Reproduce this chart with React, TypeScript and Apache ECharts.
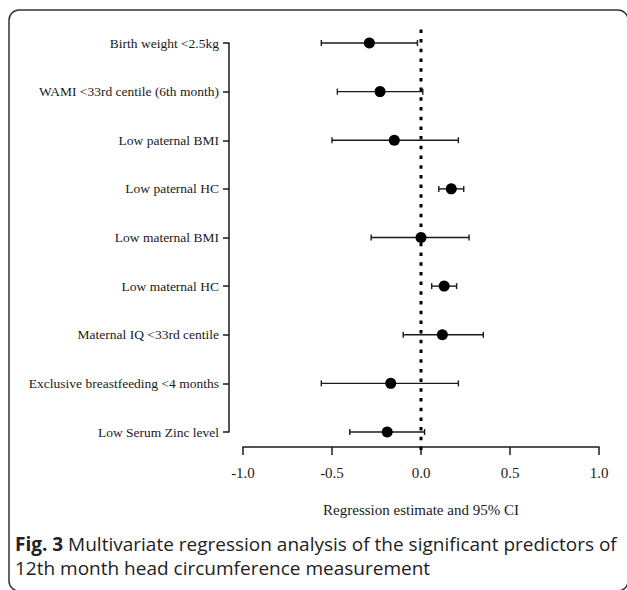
import React, { useEffect, useRef } from "react";
import * as echarts from "echarts";

const categories = [
  "Birth weight <2.5kg",
  "WAMI <33rd centile (6th month)",
  "Low paternal BMI",
  "Low paternal HC",
  "Low maternal BMI",
  "Low maternal HC",
  "Maternal IQ <33rd centile",
  "Exclusive breastfeeding <4 months",
  "Low Serum Zinc level",
];
const estimates = [-0.29, -0.23, -0.15, 0.17, 0.0, 0.13, 0.12, -0.17, -0.19];
const lowerCI = [-0.56, -0.47, -0.5, 0.1, -0.28, 0.06, -0.1, -0.56, -0.4];
const upperCI = [-0.02, 0.01, 0.21, 0.24, 0.27, 0.2, 0.35, 0.21, 0.02];
const xTicks = [-1.0, -0.5, 0.0, 0.5, 1.0];
const xTitle = "Regression estimate and 95% CI";
const captionBold = "Fig. 3";
const captionLine1 = " Multivariate regression analysis of the significant predictors of";
const captionLine2 = "12th month head circumference measurement";

const INK = "#1a1a1a";
const SERIF = "'Liberation Serif', 'DejaVu Serif', serif";
const SANS = "'Open Sans', 'Noto Sans', sans-serif";

export default function App() {
  const ref = useRef<HTMLDivElement>(null);
  useEffect(() => {
    if (!ref.current) return;
    const chart = echarts.init(ref.current, undefined, { renderer: "svg" });
    const barData = categories.map((_, i) => [lowerCI[i], upperCI[i], i]);
    const pointData = categories.map((_, i) => [estimates[i], i]);
    chart.setOption({
      animation: false,
      backgroundColor: "#ffffff",
      grid: [
        { left: 243, right: 28, top: 43, height: 389, containLabel: false },
        { left: 243, right: 28, top: 26, height: 424, containLabel: false },
      ],
      xAxis: [
        {
          type: "value",
          gridIndex: 0,
          min: -1,
          max: 1,
          interval: 0.5,
          offset: 15,
          name: xTitle,
          nameLocation: "middle",
          nameGap: 55,
          nameTextStyle: { fontFamily: SERIF, fontSize: 15, color: INK },
          axisLine: { show: true, onZero: false, lineStyle: { color: INK, width: 1.5 } },
          axisTick: { show: true, length: 8, lineStyle: { color: INK, width: 1.5 } },
          axisLabel: {
            fontFamily: SERIF,
            fontSize: 15,
            color: INK,
            margin: 18,
            formatter: (v: number) => (xTicks.includes(v) ? v.toFixed(1) : ""),
          },
          splitLine: { show: false },
        },
        {
          type: "value",
          gridIndex: 1,
          min: -1,
          max: 1,
          show: false,
        },
      ],
      yAxis: [
        {
          type: "category",
          gridIndex: 0,
          data: categories,
          inverse: true,
          boundaryGap: false,
          offset: 14,
          axisLine: { show: true, onZero: false, lineStyle: { color: INK, width: 1.5 } },
          axisTick: { show: true, length: 6, lineStyle: { color: INK, width: 1.5 } },
          axisLabel: { fontFamily: SERIF, fontSize: 13.5, color: INK, margin: 10 },
          splitLine: { show: false },
        },
        {
          type: "value",
          gridIndex: 1,
          min: 0,
          max: 1,
          show: false,
        },
      ],
      series: [
        {
          type: "line",
          xAxisIndex: 1,
          yAxisIndex: 1,
          data: [
            [0, 0],
            [0, 1],
          ],
          symbol: "none",
          lineStyle: { color: "#000", width: 3, type: [3.5, 6.2] },
          z: 1,
          silent: true,
        },
        {
          type: "custom",
          xAxisIndex: 0,
          yAxisIndex: 0,
          data: barData,
          z: 2,
          renderItem: (params: any, api: any) => {
            const lo = api.coord([api.value(0), api.value(2)]);
            const hi = api.coord([api.value(1), api.value(2)]);
            const cap = 3;
            const style = { stroke: INK, lineWidth: 1.4 };
            return {
              type: "group",
              children: [
                { type: "line", shape: { x1: lo[0], y1: lo[1], x2: hi[0], y2: hi[1] }, style },
                { type: "line", shape: { x1: lo[0], y1: lo[1] - cap, x2: lo[0], y2: lo[1] + cap }, style },
                { type: "line", shape: { x1: hi[0], y1: hi[1] - cap, x2: hi[0], y2: hi[1] + cap }, style },
              ],
            };
          },
        },
        {
          type: "scatter",
          xAxisIndex: 0,
          yAxisIndex: 0,
          data: pointData,
          symbol: "circle",
          symbolSize: 11,
          itemStyle: { color: "#000", opacity: 1 },
          z: 3,
        },
      ],
      graphic: [
        {
          type: "rect",
          shape: { x: 9, y: 10, width: 619, height: 581, r: 10 },
          style: { fill: "none", stroke: "#333", lineWidth: 1.5 },
          silent: true,
        },
        {
          type: "text",
          left: 15,
          top: 534,
          style: {
            text: "{b|" + captionBold + "}{n|" + captionLine1 + "}\n{n|" + captionLine2 + "}",
            rich: {
              b: { fontFamily: SANS, fontSize: 19, fontWeight: "bold", fill: "#222", lineHeight: 24 },
              n: { fontFamily: SANS, fontSize: 19, fill: "#222", lineHeight: 24 },
            },
          },
        },
      ],
    });
    return () => chart.dispose();
  }, []);
  return (
    <div
      ref={ref}
      style={{ position: "fixed", left: 0, top: 0, width: 627, height: 590 }}
    />
  );
}
